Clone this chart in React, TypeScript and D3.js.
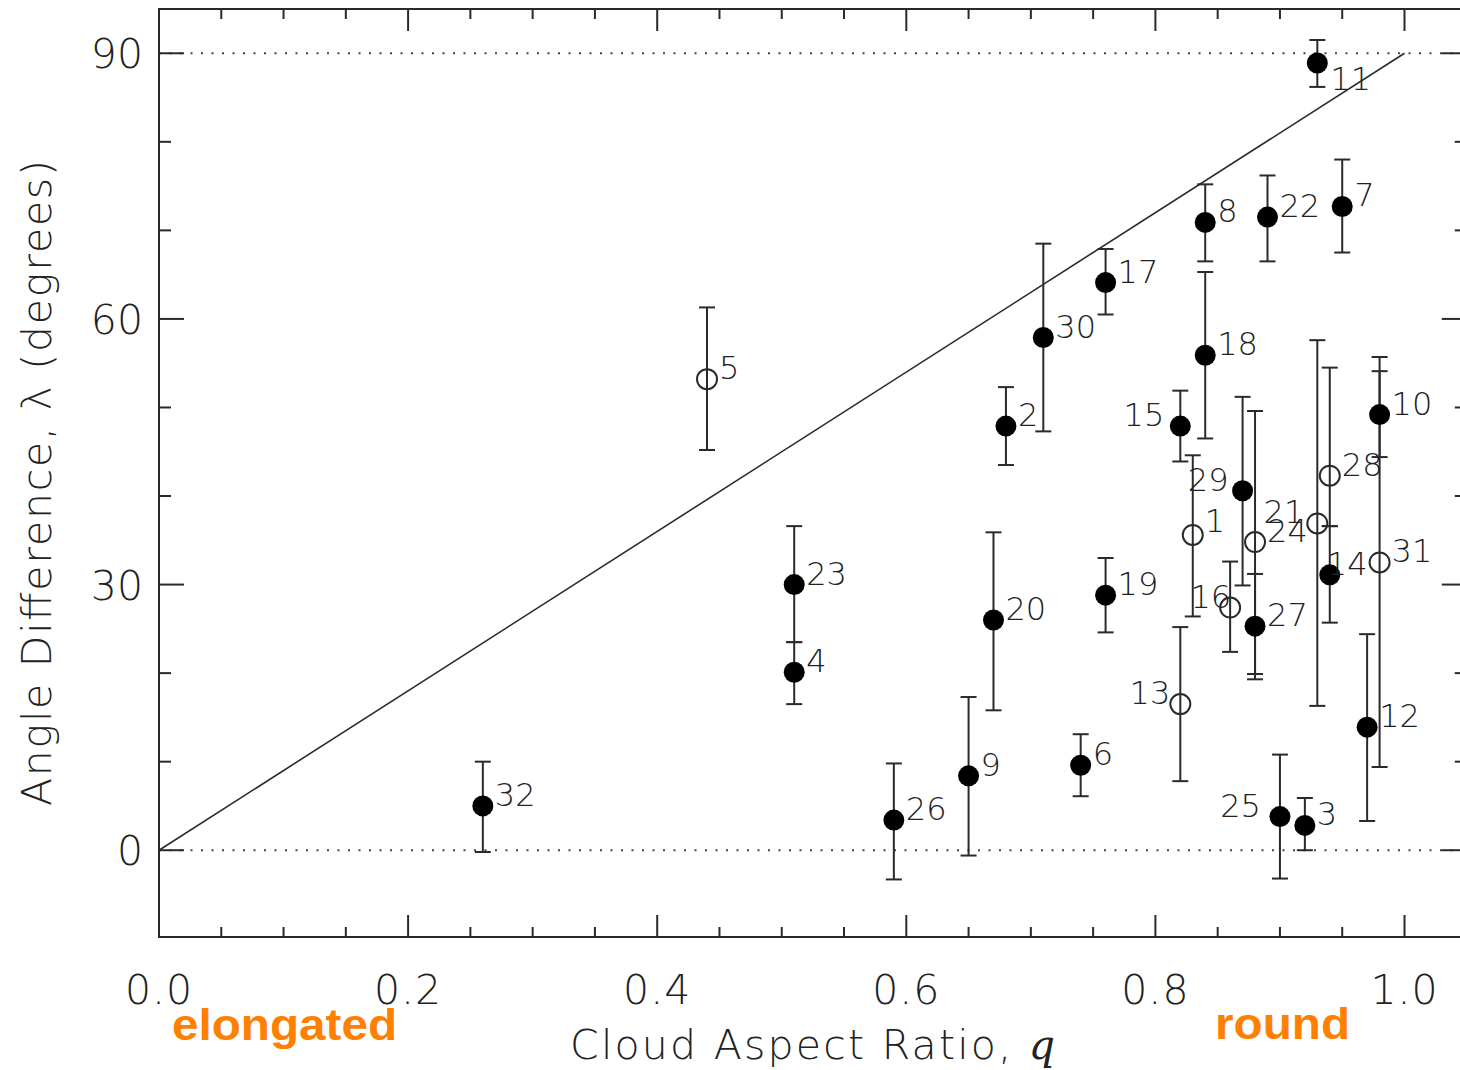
import React from "react";
import * as d3 from "d3";

// ---- data ----
const cloudIds = [1,2,3,4,5,6,7,8,9,10,11,12,13,14,15,16,17,18,19,20,21,22,23,24,25,26,27,28,29,30,31,32];
const aspectRatio = [0.83,0.68,0.92,0.51,0.44,0.74,0.95,0.84,0.65,0.98,0.93,0.97,0.82,0.94,0.82,0.86,0.76,0.84,0.76,0.67,0.93,0.89,0.51,0.88,0.90,0.59,0.88,0.94,0.87,0.71,0.98,0.26];
const angleDiff = [35.6,47.9,2.8,20.1,53.2,9.6,72.7,70.9,8.4,49.2,88.9,13.9,16.5,31.1,47.9,27.4,64.1,55.9,28.8,26.0,36.9,71.5,30.0,34.8,3.8,3.4,25.3,42.3,40.6,57.9,32.5,5.0];
const angleLow = [26.4,43.5,0.0,16.5,45.2,6.1,67.5,66.5,-0.6,44.4,86.2,3.3,7.8,25.7,43.9,22.4,60.5,46.5,24.6,15.8,16.3,66.5,23.5,19.3,-3.2,-3.3,19.9,36.6,29.9,47.3,9.4,-0.2];
const angleHigh = [44.6,52.3,5.9,23.5,61.3,13.1,78.0,75.2,17.3,55.7,91.5,24.4,25.2,36.6,51.9,32.6,67.9,65.3,33.0,35.9,57.6,76.2,36.6,49.6,10.8,9.8,31.2,54.5,51.2,68.5,54.1,10.0];
const openIds = [1,5,13,16,21,24,28,31];

const xMajorTicks = [0, 0.2, 0.4, 0.6, 0.8, 1.0];
const xTickLabels = ["0.0", "0.2", "0.4", "0.6", "0.8", "1.0"];
const yMajorTicks = [0, 30, 60, 90];
const yTickLabels = ["0", "30", "60", "90"];
const lineEnds = [0, 1];

// label placement (style, not data)
const labelPlace: Record<number, { dx: number; dy: number; anchor: string }> = {
  15: { dx: -16, dy: 0, anchor: "end" },
  29: { dx: -14, dy: 0, anchor: "end" },
  13: { dx: -10, dy: 0, anchor: "end" },
  25: { dx: -19, dy: 0, anchor: "end" },
  16: { dx: 1, dy: 0, anchor: "end" },
  21: { dx: -13, dy: 0, anchor: "end" },
  11: { dx: 13, dy: 27, anchor: "start" },
  14: { dx: -3, dy: 0, anchor: "start" },
  1: { dx: 12, dy: -3, anchor: "start" },
};

const W = 1460;
const H = 1070;
const LEFT = 159;
const TOP = 9;
const BOTTOM = 937;

const x = d3.scaleLinear().domain([0, 1.05]).range([LEFT, LEFT + 1.05 * 1245.5]);
const y = d3.scaleLinear().domain([-9.8, 95]).range([BOTTOM, TOP]);

const INK = "#2a2a2a";
const FONT = "'DejaVu Sans', sans-serif";

export default function App() {
  const RIGHT = x(1.05);
  const xMinor = d3.range(1, 21).map((i) => i * 0.05).filter((v) => Math.abs(v / 0.2 - Math.round(v / 0.2)) > 1e-6);
  const yMinor = d3.range(0, 10).map((i) => i * 10).filter((v) => v % 30 !== 0);
  const diag = d3.line<number>().x((d) => x(d)).y((d) => y(d * 90));

  const pts = cloudIds.map((id, i) => ({
    id,
    q: aspectRatio[i],
    l: angleDiff[i],
    lo: angleLow[i],
    hi: angleHigh[i],
    open: openIds.includes(id),
  }));

  return (
    <svg width={W} height={H} style={{ position: "absolute", left: 0, top: 0, background: "#fff" }}>
      {/* dotted reference lines */}
      {[0, 90].map((v) => (
        <line key={"dot" + v} x1={LEFT} x2={RIGHT} y1={y(v)} y2={y(v)} stroke="#444" strokeWidth={2} strokeDasharray="2,8.5" />
      ))}
      {/* diagonal */}
      <path d={diag(lineEnds) || ""} stroke={INK} strokeWidth={1.6} fill="none" />

      {/* frame */}
      <rect x={LEFT} y={TOP} width={RIGHT - LEFT} height={BOTTOM - TOP} fill="none" stroke={INK} strokeWidth={2} />

      {/* x ticks bottom & top */}
      {xMajorTicks.map((v) => (
        <g key={"xM" + v}>
          <line x1={x(v)} x2={x(v)} y1={BOTTOM} y2={BOTTOM - 22} stroke={INK} strokeWidth={2} />
          <line x1={x(v)} x2={x(v)} y1={TOP} y2={TOP + 22} stroke={INK} strokeWidth={2} />
        </g>
      ))}
      {xMinor.map((v) => (
        <g key={"xm" + v}>
          <line x1={x(v)} x2={x(v)} y1={BOTTOM} y2={BOTTOM - 10} stroke={INK} strokeWidth={2} />
          <line x1={x(v)} x2={x(v)} y1={TOP} y2={TOP + 10} stroke={INK} strokeWidth={2} />
        </g>
      ))}
      {/* y ticks left & right */}
      {yMajorTicks.map((v) => (
        <g key={"yM" + v}>
          <line x1={LEFT} x2={LEFT + 25} y1={y(v)} y2={y(v)} stroke={INK} strokeWidth={2} />
          <line x1={RIGHT} x2={RIGHT - 25} y1={y(v)} y2={y(v)} stroke={INK} strokeWidth={2} />
        </g>
      ))}
      {yMinor.map((v) => (
        <g key={"ym" + v}>
          <line x1={LEFT} x2={LEFT + 12} y1={y(v)} y2={y(v)} stroke={INK} strokeWidth={2} />
          <line x1={RIGHT} x2={RIGHT - 12} y1={y(v)} y2={y(v)} stroke={INK} strokeWidth={2} />
        </g>
      ))}

      {/* tick labels */}
      {xMajorTicks.map((v, i) => (
        <text key={"xl" + v} x={x(v)} y={1004} textAnchor="middle" fontFamily={FONT} fontWeight={200} fontSize={41} fill="#222" letterSpacing={1}>
          {xTickLabels[i]}
        </text>
      ))}
      {yMajorTicks.map((v, i) => (
        <text key={"yl" + v} x={143} y={y(v) + 15} textAnchor="end" fontFamily={FONT} fontWeight={200} fontSize={41} fill="#222">
          {yTickLabels[i]}
        </text>
      ))}

      {/* axis titles */}
      <text x={570} y={1059} fontFamily={FONT} fontWeight={200} fontSize={41} fill="#222" textLength={485} lengthAdjust="spacing">
        Cloud Aspect Ratio,{" "}
        <tspan fontFamily="'DejaVu Serif', serif" fontStyle="italic" fontWeight={400}>q</tspan>
      </text>
      <text
        transform={`translate(51, 806) rotate(-90)`}
        fontFamily={FONT}
        fontWeight={200}
        fontSize={41}
        fill="#222"
        textLength={646}
        lengthAdjust="spacing"
      >
        Angle Difference, λ (degrees)
      </text>

      {/* annotations */}
      <text x={172} y={1040} fontFamily="'Liberation Sans', Arial, sans-serif" fontWeight={700} fontSize={44} fill="#FF7F00" textLength={225} lengthAdjust="spacingAndGlyphs">
        elongated
      </text>
      <text x={1215} y={1039} fontFamily="'Liberation Sans', Arial, sans-serif" fontWeight={700} fontSize={44} fill="#FF7F00" textLength={135} lengthAdjust="spacingAndGlyphs">
        round
      </text>

      {/* error bars */}
      {pts.map((p) => (
        <g key={"eb" + p.id} stroke={INK} strokeWidth={2}>
          <line x1={x(p.q)} x2={x(p.q)} y1={y(p.lo)} y2={y(p.hi)} />
          <line x1={x(p.q) - 8} x2={x(p.q) + 8} y1={y(p.lo)} y2={y(p.lo)} />
          <line x1={x(p.q) - 8} x2={x(p.q) + 8} y1={y(p.hi)} y2={y(p.hi)} />
        </g>
      ))}
      {/* markers */}
      {pts.map((p) =>
        p.open ? (
          <circle key={"m" + p.id} cx={x(p.q)} cy={y(p.l)} r={10} fill="none" stroke={INK} strokeWidth={2} />
        ) : (
          <circle key={"m" + p.id} cx={x(p.q)} cy={y(p.l)} r={10.5} fill="#000" />
        )
      )}
      {/* point labels */}
      {pts.map((p) => {
        const pl = labelPlace[p.id] || { dx: 12, dy: 0, anchor: "start" };
        return (
          <text
            key={"t" + p.id}
            x={x(p.q) + pl.dx}
            y={y(p.l) + pl.dy}
            textAnchor={pl.anchor as any}
            fontFamily={FONT}
            fontWeight={200}
            fontSize={32}
            fill="#222"
          >
            {p.id}
          </text>
        );
      })}
    </svg>
  );
}
